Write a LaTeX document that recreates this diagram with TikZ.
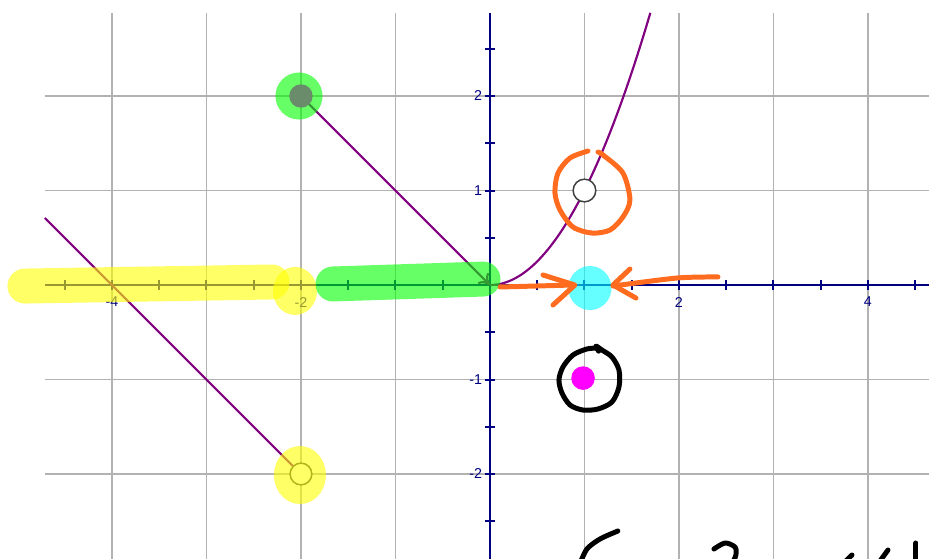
\documentclass[tikz,border=0pt]{standalone}
\usepackage{fontspec}
\setsansfont{Liberation Sans}
\usepackage{xcolor}
\usepackage{tikz}
\usetikzlibrary{arrows.meta}
\definecolor{axisblue}{RGB}{0,0,128}
\definecolor{plotpurple}{RGB}{128,0,128}
\definecolor{gridgray}{RGB}{178,178,178}
\definecolor{penorange}{RGB}{255,108,32}
\definecolor{dotgray}{RGB}{106,140,106}
\definecolor{hlyellow}{RGB}{255,255,0}
\definecolor{hlgreen}{RGB}{0,255,0}
\definecolor{hlcyan}{RGB}{0,255,255}
\definecolor{dotmagenta}{RGB}{255,0,255}

\begin{document}
\begin{tikzpicture}[x=1cm, y=1cm, font=\sffamily\fontsize{4.3}{5}\selectfont,
  gr/.style={gridgray, line width=0.45pt},
  ax/.style={axisblue, line width=0.6pt},
  tk/.style={text=axisblue, inner sep=0.5pt},
  fn/.style={plotpurple, line width=0.65pt},
  hl/.style={opacity=0.6, line width=0.37cm, line cap=round},
  pen/.style={penorange, line width=1.5pt, line cap=round, line join=round},
  ink/.style={black, line width=1.5pt, line cap=round, line join=round}]
\useasboundingbox (-5.185,-2.899) rectangle (4.646,3.016);
\clip (-5.185,-2.899) rectangle (4.646,3.016);
% grid
\foreach \x in {-4,...,4} \draw[gr] (\x,-2.95) -- (\x,2.878);
\foreach \y in {-2,-1,1,2} \draw[gr] (-4.709,\y) -- (4.7,\y);
% axes and ticks
\draw[ax] (-4.709,0) -- (4.7,0);
\draw[ax] (0,-2.95) -- (0,2.878);
\foreach \x in {-4.5,-4,...,4.5} \draw[ax] (\x,-0.05) -- (\x,0.05);
\foreach \y in {-2.5,-2,...,2.5} \draw[ax] (-0.053,\y) -- (0.053,\y);
\foreach \x in {-4,-2,2,4} \node[tk] (xl\x) at (\x,-0.18) {\x};
\foreach \y in {-2,-1,1,2} \node[tk, anchor=east] (yl\y) at (-0.06,\y) {\y};
% the pieces
\draw[fn, -{To[length=1.1mm, width=1.6mm]}] (-2,2) -- (0,0);
\draw[fn] (-4.709,0.709) -- (-2.085,-1.915);
\draw[fn] plot[domain=0:1.697, samples=60] (\x,{\x*\x});
\draw[fill=white, draw=darkgray, line width=0.45pt] (-2,-2) circle (0.115);
% highlighter
\draw[hl, hlyellow] (-4.921,-0.011) -- (-2.307,0.032);
\fill[hlyellow, opacity=0.6] (-2.063,-0.063) ellipse (0.233 and 0.254);
\draw[hl, hlgreen] (-1.661,0.011) -- (-0.074,0.063);
\fill[hlgreen, opacity=0.6] (-2.021,2.0) circle (0.249);
\fill[hlyellow, opacity=0.6] (-2.011,-2.011) ellipse (0.275 and 0.307);
\fill[hlcyan, opacity=0.6] (1.058,-0.032) ellipse (0.228 and 0.233);
% points
\fill[dotgray] (-2,2) circle (0.124);
\draw[fill=white, draw=darkgray, line width=0.45pt] (1,1) circle (0.12);
\fill[dotmagenta] (0.985,-0.985) circle (0.125);
% pen marks
\draw[pen] plot[smooth] coordinates {(1.037,1.418) (0.847,1.344) (0.720,1.185)
  (0.688,0.974) (0.741,0.794) (0.878,0.614) (1.079,0.550) (1.270,0.582)
  (1.407,0.720) (1.481,0.899) (1.407,1.185) (1.196,1.376) (1.143,1.407)};
\draw[pen] (0.106,-0.021) -- (0.878,0);
\draw[pen] (0.561,0.106) -- (0.899,0) -- (0.667,-0.212);
\draw[pen] plot[smooth] coordinates {(2.413,0.085) (1.979,0.074) (1.302,-0.011)};
\draw[pen] (1.481,0.169) -- (1.302,0) -- (1.545,-0.138);
\draw[ink] plot[smooth] coordinates {(1.143,-0.667) (1.026,-0.677) (0.878,-0.741)
  (0.772,-0.868) (0.730,-1.005) (0.762,-1.143) (0.847,-1.270) (0.984,-1.323)
  (1.143,-1.312) (1.291,-1.238) (1.365,-1.079) (1.365,-0.899) (1.291,-0.762)
  (1.185,-0.688) (1.122,-0.646) (1.150,-0.700)};
\draw[ink] plot[smooth] coordinates {(1.354,-2.603) (1.164,-2.688) (1.026,-2.794) (0.952,-2.95)};
\draw[ink] plot[smooth] coordinates {(2.370,-2.794) (2.487,-2.730) (2.593,-2.773) (2.603,-2.857) (2.561,-2.95)};
\draw[ink] (3.735,-2.95) -- (3.831,-2.857);
\draw[ink] (4.212,-2.804) -- (4.106,-2.95);
\draw[ink] (4.508,-2.730) -- (4.508,-2.95);
\end{tikzpicture}
\end{document}
